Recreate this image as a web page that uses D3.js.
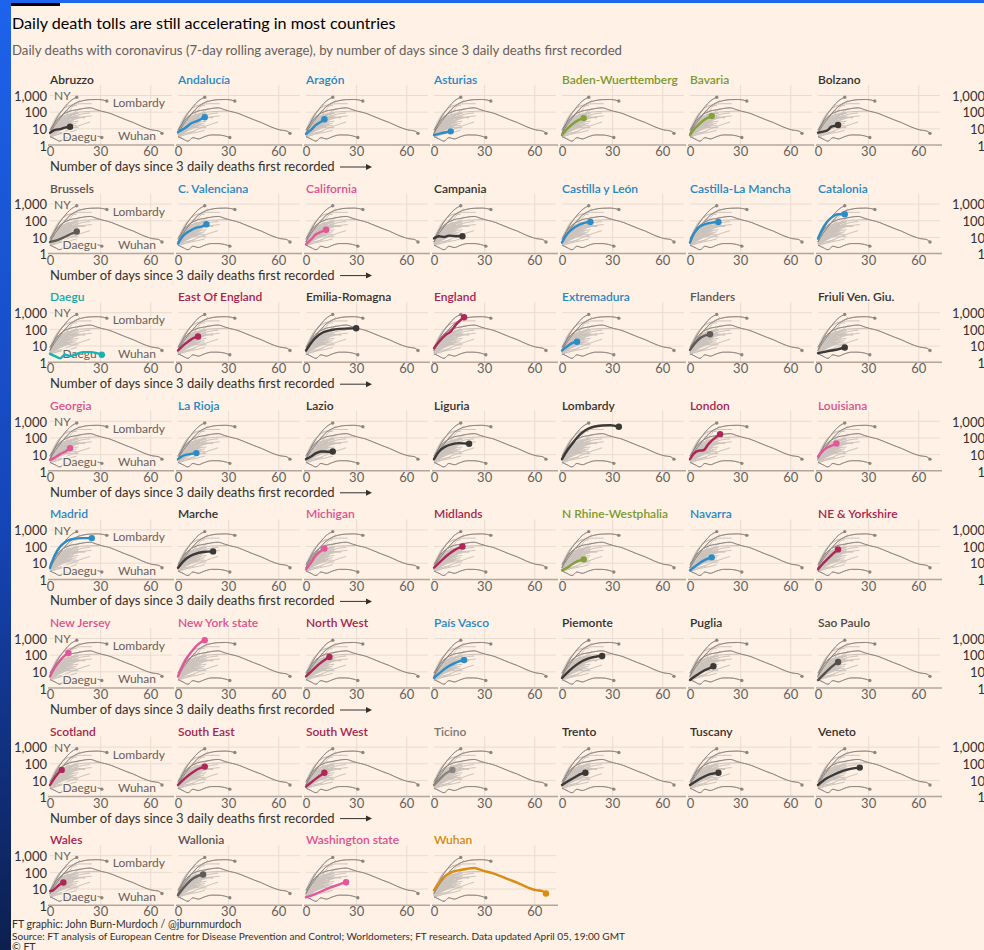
<!DOCTYPE html>
<html><head><meta charset="utf-8">
<script src="https://cdn.jsdelivr.net/npm/d3@7"></script>
<style>
html,body{margin:0;padding:0;background:#fff1e5;}
svg{display:block;font-family:Lato,"Noto Sans",sans-serif;}
</style></head><body>
<svg id="chart" width="984" height="950"></svg>
<script>
// ---------------- DATA ----------------
const regionNames = [
 "Abruzzo","Andalucía","Aragón","Asturias","Baden-Wuerttemberg","Bavaria","Bolzano",
 "Brussels","C. Valenciana","California","Campania","Castilla y León","Castilla-La Mancha","Catalonia",
 "Daegu","East Of England","Emilia-Romagna","England","Extremadura","Flanders","Friuli Ven. Giu.",
 "Georgia","La Rioja","Lazio","Liguria","Lombardy","London","Louisiana",
 "Madrid","Marche","Michigan","Midlands","N Rhine-Westphalia","Navarra","NE & Yorkshire",
 "New Jersey","New York state","North West","País Vasco","Piemonte","Puglia","Sao Paulo",
 "Scotland","South East","South West","Ticino","Trento","Tuscany","Veneto",
 "Wales","Wallonia","Washington state","Wuhan"];
const regionGroups = [
 "it","es","es","es","de","de","it",
 "be","es","us","it","es","es","es",
 "kr","uk","it","uk","es","be","it",
 "us","es","it","it","it","uk","us",
 "es","it","us","uk","de","es","uk",
 "us","us","uk","es","it","it","br",
 "uk","uk","uk","ch","it","it","it",
 "uk","be","us","cn"];
// days since 3 daily deaths first recorded
const seriesDays = [
 [0,3,6,9,12],[0,4,8,12,16],[0,3,6,9,11],[0,4,7,10],[0,3,6,9,13],[0,3,6,9,13],[0,3,6,8,10,12],
 [0,4,8,12,16],[0,3,7,11,14,17],[0,3,6,9,12],[0,3,6,9,13,17],[0,3,6,10,14,17],[0,2,5,9,13,17],[0,2,5,8,12,16],
 [0,3,6,9,12,16,20,24,28,31],[0,3,6,9,12],[0,5,10,15,20,25,30],[0,3,7,10,13,16,18],[0,3,6,9],[0,3,6,9,12],[0,4,8,12,16],
 [0,3,6,9,12],[0,3,7,11],[0,3,6,9,13,16],[0,3,7,11,15,21],[0,3,6,10,14,19,24,29,34],[0,2,5,8,11,14,18],[0,2,5,8,11],
 [0,3,6,9,12,15,19,22,25],[0,5,10,15,21],[0,3,6,9,11],[0,4,8,12,17],[0,3,6,9,13],[0,3,6,9,13],[0,3,6,9,12],
 [0,3,6,9,11],[0,3,6,9,12,16],[0,4,8,12,14],[0,4,8,12,15,18],[0,4,8,12,16,20,24],[0,3,6,9,12,14],[0,3,6,9,12],
 [0,2,4,7],[0,4,8,12,16],[0,3,6,9,11],[0,3,6,9,11],[0,4,8,11,14],[0,4,8,12,17],[0,5,10,15,20,25],
 [0,2,4,6,8],[0,3,6,9,12,15],[0,4,8,12,16,20,24],[0,5,11,16,20,24,28,31,35,39,45,50,55,61,65,67]];
// daily deaths, 7-day rolling average
const seriesValues = [
 [5.5,8,9,11,12.5],[6,10,20,29,46],[4.6,8,16,25,35],[4,5,5.8,6.6],[4,9,17,28,41],[4,10,20,35,55],[5.5,6.3,8,12.6,14,16],
 [5,6.3,9,14.5,21],[4,11.5,23,36,42,58],[3.6,7,14.5,20,27],[8.3,11,10,12,11,11],[4.6,14.5,29,52,72,79],[4.6,14.5,36,58,72,79],[8,23,72,145,229,229],
 [3.2,2.3,1.7,2.8,2.3,3.2,4,4,3.5,2.8],[5,10,17,27.5,35],[5,25,60,85,100,105,110],[7,17,44,69,174,347,500],[5,8.7,14,17],[5.5,14,27.5,40,48],[3.5,4.2,5,6,7.6],
 [4.4,6.3,10,14,23],[5,8,10,11.5],[5,7.2,11.5,14.5,14,14.5],[5,14.5,29,40,46,42],[5,16,40,126,275,440,525,540,440],[5,10,16,17,40,79,158],[7.2,12.6,23,32,44],
 [5,30,90,170,240,280,300,300,300],[5,18,33,44,48],[4,10,28,52,72],[5,12,28,55,95],[3.5,5,8,12,16],[3.5,6,10,15,21],[4,9,18,35,63],
 [5,18,45,90,125],[5,25,80,200,420,740],[5,12,28,55,72],[4,9,18,30,40,48],[4,10,22,40,60,75,83],[3,5,8,12,16,20],[3,6,12,22,36],
 [5,10,20,40],[5,12,25,45,63],[4,7,12,20,27],[5,10,20,32,40],[5,9,15,22,27],[5,9,15,22,27],[5,12,22,35,48,55],
 [7,8,12,18,23],[4,10,22,40,58,69],[3,4,6,9,13,18,24],[8,40,100,130,155,170,130,105,85,60,34,22,13,8,7,5]];
const referenceNames  = ["New York state","Lombardy","Daegu","Wuhan"];
const referenceLabels = ["NY","Lombardy","Daegu","Wuhan"];
const yTicks = [1,10,100,1000];
const yTickLabels = ["1","10","100","1,000"];
const xTicks = [0,30,60];
const xTickLabels = ["0","30","60"];
const titleText = "Daily death tolls are still accelerating in most countries";
const subtitleText = "Daily deaths with coronavirus (7-day rolling average), by number of days since 3 daily deaths first recorded";
const axisCaption = "Number of days since 3 daily deaths first recorded";
const footerLines = ["FT graphic: John Burn-Murdoch / @jburnmurdoch",
 "Source: FT analysis of European Centre for Disease Prevention and Control; Worldometers; FT research. Data updated April 05, 19:00 GMT",
 "© FT"];

// ---------------- STYLE / LAYOUT ----------------
const groupLine  = {it:"#3b3835",be:"#5f5a56",ch:"#8a837d",br:"#55504c",es:"#2a8dc9",de:"#84a03a",us:"#e2569a",uk:"#ad2758",kr:"#17b2b3",cn:"#da8d12"};
const groupLabel = {it:"#33302e",be:"#5a5550",ch:"#7d7670",br:"#4d4845",es:"#2486c5",de:"#7b982c",us:"#e0508f",uk:"#a6244f",kr:"#12a9aa",cn:"#d38a0d"};
const bg = "#fff1e5";
const W = 984, H = 950;
const colStep = 128, left0 = 50, pw = 122, ph = 60, rowStep = 108.6, top0 = 85;
const refLabelPos = [{dx:-6,dy:3,a:"end"},{dx:6,dy:6,a:"start"},{dx:-5,dy:3,a:"end"},{dx:-6,dy:7,a:"end"}];

const svg = d3.select("#chart");
const defs = svg.append("defs");
const lg = defs.append("linearGradient").attr("id","edge").attr("x1",0).attr("y1",0).attr("x2",0).attr("y2",1);
lg.append("stop").attr("offset","0%").attr("stop-color","#1d63ec");
lg.append("stop").attr("offset","55%").attr("stop-color","#1645b8");
lg.append("stop").attr("offset","100%").attr("stop-color","#0c1f4e");

svg.append("rect").attr("width",W).attr("height",H).attr("fill",bg);
svg.append("rect").attr("x",0).attr("y",0).attr("width",W).attr("height",3).attr("fill","#1d64ee");
svg.append("rect").attr("x",0).attr("y",0).attr("width",11).attr("height",H).attr("fill","url(#edge)");
svg.append("rect").attr("x",11).attr("y",3).attr("width",49).attr("height",3).attr("fill","#000");

function fit(sel, target){
  const w = sel.node().getComputedTextLength();
  const fs = parseFloat(sel.attr("font-size"));
  sel.attr("font-size", (fs*target/w).toFixed(2));
}
fit(svg.append("text").attr("x",12).attr("y",29).attr("font-size",17).attr("fill","#000").text(titleText), 384);
fit(svg.append("text").attr("x",12).attr("y",55).attr("font-size",13).attr("fill","#66605c").text(subtitleText), 610);

const x = d3.scaleLinear().domain([0,73]).range([0,pw]);
const y = d3.scaleLog().domain([1,Math.pow(10,3.6)]).range([ph,0]);
const line = d3.line().x(d=>x(d[0])).y(d=>y(d[1])).curve(d3.curveMonotoneX);
const series = regionNames.map((n,i)=>({name:n, group:regionGroups[i],
  pts: seriesDays[i].map((d,j)=>[d, seriesValues[i][j]])}));
const refs = referenceNames.map(n=>series.find(s=>s.name===n));

series.forEach((s,i)=>{
  const c = i%7, r = Math.floor(i/7);
  const g = svg.append("g").attr("transform",`translate(${left0+colStep*c},${top0+rowStep*r})`);
  // grid
  const gh = g.append("g").call(d3.axisLeft(y).tickValues([10,100,1000]).tickSize(-pw).tickFormat(""));
  gh.select(".domain").remove();
  gh.selectAll("line").attr("stroke","#e8dcd1").attr("stroke-width",1);
  const gv = g.append("g").attr("transform",`translate(0,${ph})`).call(d3.axisBottom(x).tickValues([30,60]).tickSize(-ph).tickFormat(""));
  gv.select(".domain").remove();
  gv.selectAll("line").attr("stroke","#e8dcd1").attr("stroke-width",1);
  // baseline + x labels
  const gx = g.append("g").attr("transform",`translate(0,${ph})`)
    .call(d3.axisBottom(x).tickValues(xTicks).tickFormat((d,k)=>xTickLabels[k]).tickSize(0).tickPadding(2));
  gx.select(".domain").remove();
  gx.attr("font-family",null).attr("font-size",13);
  gx.selectAll("text").attr("fill","#66605c");
  g.append("line").attr("x1",-2).attr("x2",pw+2).attr("y1",ph).attr("y2",ph).attr("stroke","#b1a79e").attr("stroke-width",1.5);
  // background lines
  g.append("g").selectAll("path").data(series).join("path")
    .attr("d",d=>line(d.pts)).attr("fill","none").attr("stroke","#cbc3bc").attr("stroke-width",1);
  // reference lines
  g.append("g").selectAll("path").data(refs).join("path")
    .attr("d",d=>line(d.pts)).attr("fill","none").attr("stroke","#8d8680").attr("stroke-width",1);
  g.append("g").selectAll("circle").data(refs).join("circle")
    .attr("cx",d=>x(d.pts[d.pts.length-1][0])).attr("cy",d=>y(d.pts[d.pts.length-1][1]))
    .attr("r",1.7).attr("fill","#8d8680");
  if (c===0){
    g.append("g").selectAll("text").data(refs).join("text")
      .attr("x",(d,k)=>x(d.pts[d.pts.length-1][0])+refLabelPos[k].dx)
      .attr("y",(d,k)=>y(d.pts[d.pts.length-1][1])+refLabelPos[k].dy)
      .attr("text-anchor",(d,k)=>refLabelPos[k].a)
      .attr("font-size",12).attr("fill","#66605c")
      .attr("stroke",bg).attr("stroke-width",3).attr("paint-order","stroke")
      .text((d,k)=>referenceLabels[k]);
  }
  // highlight
  const col = groupLine[s.group];
  g.append("path").attr("d",line(s.pts)).attr("fill","none").attr("stroke",col).attr("stroke-width",2.4).attr("stroke-linejoin","round").attr("stroke-linecap","round");
  const last = s.pts[s.pts.length-1];
  g.append("circle").attr("cx",x(last[0])).attr("cy",y(last[1])).attr("r",3.2).attr("fill",col);
  // title
  g.append("text").attr("x",0).attr("y",-1).attr("font-size",12).attr("font-weight",600)
    .attr("fill",groupLabel[s.group]).text(s.name);
  // y labels
  if (c===0){
    const ya = g.append("g").call(d3.axisLeft(y).tickValues(yTicks).tickFormat((d,k)=>yTickLabels[k]).tickSize(0).tickPadding(3));
    ya.select(".domain").remove();
    ya.attr("font-family",null).attr("font-size",13);
    ya.selectAll("text").attr("fill","#33302e").attr("dy","0.4em");
    if (r<7){
      const cap = g.append("text").attr("x",0).attr("y",ph+26).attr("font-size",13).attr("fill","#33302e").text(axisCaption);
      fit(cap, 285);
      g.append("line").attr("x1",290).attr("x2",318).attr("y1",ph+22).attr("y2",ph+22).attr("stroke","#33302e").attr("stroke-width",1);
      g.append("path").attr("d",`M316,${ph+19}L322,${ph+22}L316,${ph+25}Z`).attr("fill","#33302e");
    }
  }
  if (c===6){
    const yr = svg.append("g").attr("transform",`translate(985,${top0+rowStep*r})`)
      .call(d3.axisLeft(y).tickValues(yTicks).tickFormat((d,k)=>yTickLabels[k]).tickSize(0).tickPadding(0));
    yr.select(".domain").remove();
    yr.attr("font-family",null).attr("font-size",13);
    yr.selectAll("text").attr("fill","#33302e").attr("dy","0.4em");
  }
});

const fy = [928, 940, 951];
footerLines.forEach((t,k)=>{
  const tx = svg.append("text").attr("x",12).attr("y",fy[k]).attr("font-size",10.5).attr("fill","#33302e").text(t);
  if (k===1) fit(tx, 613);
});
</script>
</body></html>
